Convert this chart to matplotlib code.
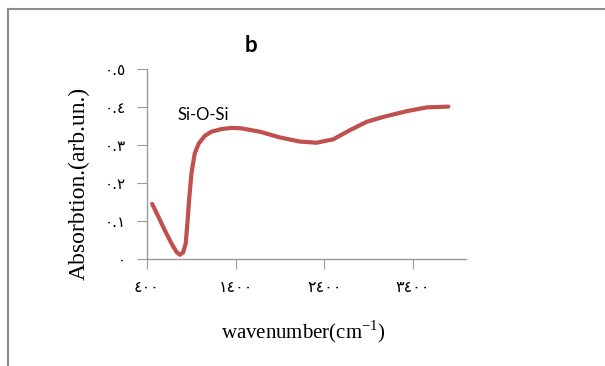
import matplotlib
matplotlib.use("Agg")
import matplotlib.pyplot as plt
from matplotlib.lines import Line2D

# values
wavenumber = [458, 525, 600, 676, 732, 770, 807, 837, 856, 875, 902, 939, 984,
              1052, 1127, 1241, 1354, 1460, 1673, 1899, 2125, 2314, 2502, 2690,
              2879, 3068, 3331, 3557, 3801]
absorption = [0.145, 0.113, 0.076, 0.041, 0.019, 0.011, 0.017, 0.041, 0.094, 0.155,
              0.226, 0.278, 0.304, 0.324, 0.335, 0.342, 0.345, 0.344, 0.335, 0.320,
              0.309, 0.306, 0.315, 0.339, 0.361, 0.374, 0.389, 0.399, 0.401]

x_ticks = [400, 1400, 2400, 3400]
x_ticklabels = ['٤٠٠', '١٤٠٠', '٢٤٠٠', '٣٤٠٠']
y_ticks = [0, 0.1, 0.2, 0.3, 0.4, 0.5]
y_ticklabels = ['٠', '٠.١', '٠.٢', '٠.٣', '٠.٤', '٠.٥']

W, H = 605, 366
fig = plt.figure(figsize=(W / 100, H / 100), dpi=100)
ax = fig.add_axes([147 / W, 1 - 259 / H, (466 - 147) / W, (259 - 69) / H])

ax.plot(wavenumber, absorption, color='#C0504D', lw=3.0,
        solid_capstyle='round', solid_joinstyle='round')

ax.set_xlim(400, 4000)
ax.set_ylim(0, 0.5)
ax.set_xticks(x_ticks)
ax.set_xticklabels(x_ticklabels, family=['DejaVu Sans'], fontsize=11.5)
ax.set_yticks(y_ticks)
ax.set_yticklabels(y_ticklabels, family=['DejaVu Sans'], fontsize=11)

for s in ['top', 'right']:
    ax.spines[s].set_visible(False)
for s in ['left', 'bottom']:
    ax.spines[s].set_color('#999999')
    ax.spines[s].set_linewidth(1.0)
ax.tick_params(axis='x', direction='out', length=7, color='#999999', pad=8)
ax.tick_params(axis='y', direction='out', length=7, color='#999999', pad=8)

ax.set_xlabel('wavenumber(cm$^{\\mathregular{-1}}$)', family='Liberation Serif', fontsize=15)
ax.xaxis.set_label_coords(0.49, -0.31)
ax.set_ylabel('Absorbtion.(arb.un.)', family='Liberation Serif', fontsize=17)
ax.yaxis.set_label_coords(-0.18, 0.40)

ax.text(1035, 0.379, 'Si-O-Si', family='Lato', fontsize=12, ha='center', va='center')
fig.text(251 / W, 1 - 45 / H, 'b', family='Lato', fontweight='bold', fontsize=16,
         ha='center', va='center')

# frame around the picture
fig.add_artist(Line2D([8 / W, 8 / W], [0, 1 - 9 / H], transform=fig.transFigure,
                      color='#8c8c8c', lw=1.5))
fig.add_artist(Line2D([8 / W, 1], [1 - 9 / H, 1 - 9 / H], transform=fig.transFigure,
                      color='#8c8c8c', lw=1.5))

fig.savefig('out.png', dpi=100)
